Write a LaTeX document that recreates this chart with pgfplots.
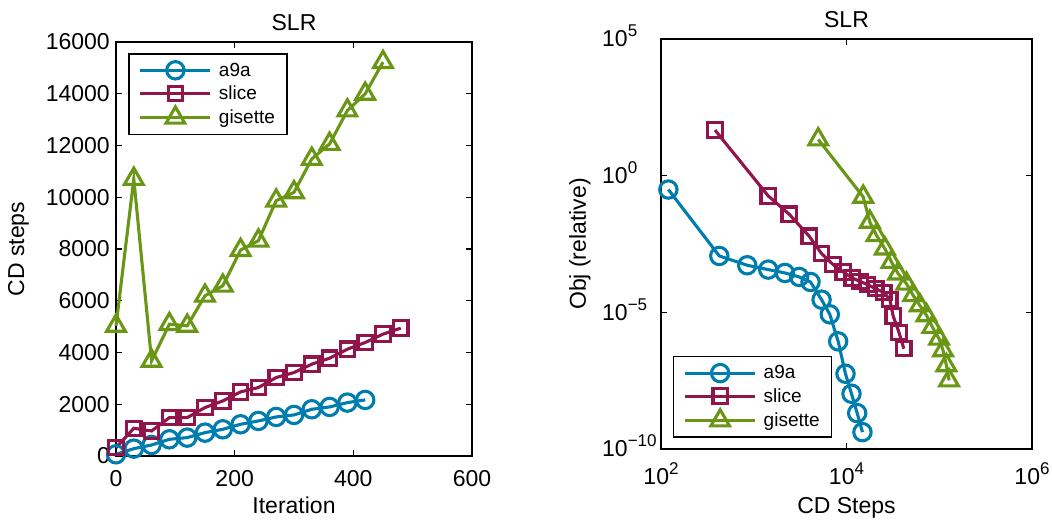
\documentclass[border=0pt]{standalone}
\usepackage{pgfplots}
\pgfplotsset{compat=1.18}
\usepackage{fontspec}
\setmainfont{Liberation Sans}
\definecolor{cblue}{RGB}{0,125,175}
\definecolor{ccrim}{RGB}{145,20,75}
\definecolor{cgreen}{RGB}{105,150,20}
\newcommand{\tfont}{\fontsize{23}{26}\selectfont}
\newcommand{\lfont}{\fontsize{19}{22}\selectfont}
\newcommand{\ex}[1]{10\raisebox{10pt}[0pt][0pt]{\fontsize{17}{19}\selectfont #1}}
\begin{document}
\begin{tikzpicture}
\useasboundingbox (0,0) rectangle (1052pt,521pt);
\pgfplotsset{
  every axis/.append style={
    scale only axis, clip=false,
    axis line style={line width=1.5pt},
    every tick/.style={line width=1.2pt, black},
    major tick length=6pt, tick align=inside,
    xtick pos=both, ytick pos=both,
    ticklabel style={font=\tfont},
    title style={font=\tfont, yshift=2pt},
    /pgf/number format/assume math mode=true,
    /pgf/number format/set thousands separator={},
    scaled ticks=false,
    legend cell align=left,
    legend style={font=\lfont, draw=black, inner xsep=10pt, inner ysep=7pt,
      row sep=4pt, nodes={inner sep=2pt},
      /tikz/every odd column/.append style={column sep=5pt}},
  },
  legimg/.style={legend image code/.code={\draw[line width=3.1pt, mark repeat=2,mark phase=2] plot coordinates {(0pt,0pt) (35pt,0pt) (70pt,0pt)};}},
  sa/.style={color=cblue, line width=3.1pt, mark=o, mark size=8.7pt, mark options={solid}, legimg},
  ss/.style={color=ccrim, line width=3.1pt, mark=square, mark size=7.2pt, mark options={solid}, legimg},
  sg/.style={color=cgreen, line width=3.1pt, mark=triangle, mark size=10.8pt, mark options={solid}, legimg},
}
% Left axis
\begin{axis}[
  at={(116pt,65pt)}, anchor=south west,
  width=356pt, height=414pt,
  xmin=0, xmax=600, ymin=0, ymax=16000,
  xtick={0,200,400,600}, ytick={0,2000,...,16000},
  xticklabel style={anchor=north, inner sep=0pt, yshift=-14pt},
  yticklabel style={anchor=east, inner sep=0pt, xshift=-6pt},
  title={SLR},
  xlabel={\tfont Iteration},
  ylabel={\tfont CD steps},
  xlabel style={at={(axis description cs:0.5,0)}, anchor=north, yshift=-41pt, inner sep=0pt},
  ylabel style={at={(axis description cs:-0.3034,0.5)}, anchor=north, inner sep=0pt},
  legend style={at={(axis description cs:0.034,0.973)}, anchor=north west, line width=1.5pt},
]
\addplot[sa] coordinates {(0,65)(30,284)(60,426)(90,645)(120,710)(150,903)(180,1032)(210,1226)(240,1355)(270,1509)(300,1587)(330,1806)(360,1896)(390,2064)(420,2167)};
\addlegendentry{a9a}
\addplot[ss] coordinates {(0,322)(30,1071)(60,968)(90,1484)(120,1484)(150,1871)(180,2129)(210,2477)(240,2645)(270,3032)(300,3225)(330,3548)(360,3780)(390,4128)(420,4386)(450,4709)(480,4941)};
\addlegendentry{slice}
\addplot[sg] coordinates {(0,5031)(30,10707)(60,3677)(90,5096)(120,5030)(150,6192)(180,6579)(210,7959)(240,8320)(270,9868)(300,10190)(330,11481)(360,12061)(390,13351)(420,13996)(450,15222)};
\addlegendentry{gisette}
\end{axis}
% Right axis
\begin{axis}[
  at={(661pt,72pt)}, anchor=south west,
  width=371pt, height=410pt,
  xmode=log, ymode=log,
  xmin=1e2, xmax=1e6, ymin=1e-10, ymax=1e5,
  xtick={1e2,1e4,1e6}, ytick={1e-10,1e-5,1e0,1e5},
  xticklabels={\ex{2},\ex{4},\ex{6}},
  yticklabels={\ex{−10},\ex{−5},\ex{0},\ex{5}},
  xticklabel style={anchor=north, inner sep=0pt, yshift=-19pt},
  yticklabel style={anchor=west, inner sep=0pt, xshift=-59pt},
  xminorticks=false, yminorticks=false,
  title={SLR},
  xlabel={\tfont CD Steps},
  ylabel={\tfont Obj (relative)},
  xlabel style={at={(axis description cs:0.5,0)}, anchor=north, yshift=-48pt, inner sep=0pt},
  ylabel style={at={(axis description cs:-0.248,0.5)}, anchor=north, inner sep=0pt},
  legend style={at={(axis description cs:0.032,0.027)}, anchor=south west, line width=1.5pt},
]
\addplot[sa] coordinates {(120,0.311)(425,1.156e-3)(851,5.27e-4)(1432,3.66e-4)(2168,2.76e-4)(3090,1.97e-4)(4093,1.29e-4)(5383,2.91e-5)(6607,8.45e-6)(8128,8.67e-7)(9750,5.66e-8)(11324,1.05e-8)(13032,2.06e-9)(14859,4.14e-10)};
\addlegendentry{a9a}
\addplot[ss] coordinates {(382,46.5)(1432,0.182)(2410,0.0389)(3963,6.08e-3)(5383,1.41e-3)(7178,5.57e-4)(9204,3.00e-4)(11508,1.81e-4)(13932,1.37e-4)(16827,1.03e-4)(20701,7.36e-5)(25235,5.25e-5)(29309,2.99e-5)(31842,7.35e-6)(36898,1.80e-6)(41495,4.67e-7)};
\addlegendentry{slice}
\addplot[sg] coordinates {(4955,21.1)(15136,0.168)(17824,0.0204)(21038,6.62e-3)(25882,2.15e-3)(30549,6.98e-4)(36058,2.61e-4)(44259,1.12e-4)(52240,4.20e-5)(61660,1.80e-5)(72778,7.76e-6)(84333,2.90e-6)(99540,1.08e-6)(109900,4.06e-7)(119400,1.15e-7)(127600,3.23e-8)};
\addlegendentry{gisette}
\end{axis}
\end{tikzpicture}
\end{document}
